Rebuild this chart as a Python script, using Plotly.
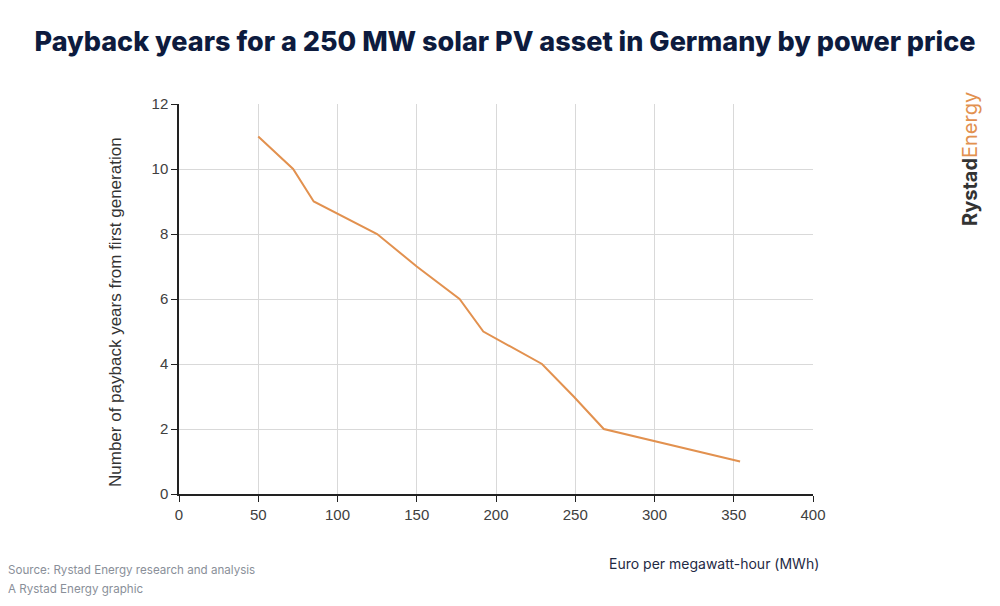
import plotly.graph_objects as go

# Data
power_price = [50, 72, 85, 125, 150, 177, 192, 229, 249, 268, 354]
payback_years = [11, 10, 9, 8, 7, 6, 5, 4, 3, 2, 1]

x_ticks = [0, 50, 100, 150, 200, 250, 300, 350, 400]
y_ticks = [0, 2, 4, 6, 8, 10, 12]

title_text = "Payback years for a 250 MW solar PV asset in Germany by power price"
y_title = "Number of payback years from first generation"
x_title = "Euro per megawatt-hour (MWh)"
source_lines = ["Source: Rystad Energy research and analysis", "A Rystad Energy graphic"]

fig = go.Figure()
fig.add_trace(go.Scatter(
    x=power_price, y=payback_years, mode="lines",
    line=dict(color="#E2914F", width=2), showlegend=False, hoverinfo="x+y"))

tick_font = dict(family="Liberation Sans, Arial, sans-serif", size=15, color="#404040")

fig.update_layout(
    width=1000, height=606,
    paper_bgcolor="white", plot_bgcolor="white",
    margin=dict(l=179, r=187, t=104, b=112),
    title=dict(text=title_text, x=0.505, xanchor="center", y=0.932, yanchor="middle",
               font=dict(family="Inter, Roboto, sans-serif", size=27, color="#0D1B3E", weight=800)),
    xaxis=dict(range=[0, 400], tickvals=x_ticks, showgrid=True, gridcolor="#D9D9D9", gridwidth=1,
               showline=True, linecolor="#222222", linewidth=1.5, ticks="outside", ticklen=6,
               tickcolor="#222222", tickfont=tick_font, zeroline=False),
    yaxis=dict(range=[0, 12], tickvals=y_ticks, showgrid=True, gridcolor="#D9D9D9", gridwidth=1,
               showline=True, linecolor="#222222", linewidth=1.5, ticks="outside", ticklen=6,
               tickcolor="#222222", tickfont=tick_font, zeroline=False),
)

fig.add_annotation(text=y_title, xref="paper", yref="paper", x=-(179 - 115) / 634, y=(494 - 312) / 390,
                   textangle=-90, xanchor="center", yanchor="middle", showarrow=False,
                   font=dict(family="Liberation Sans, Arial, sans-serif", size=17, color="#333333"))

fig.add_annotation(text=x_title, xref="paper", yref="paper", x=(821 - 179) / 634, y=-(563 - 494) / 390,
                   xanchor="right", yanchor="middle", showarrow=False,
                   font=dict(family="Inter, Roboto, sans-serif", size=14, color="#1F2A44"))

for i, line in enumerate(source_lines):
    fig.add_annotation(text=line, xref="paper", yref="paper", x=-(179 - 6) / 634,
                       y=-(570 + 19 * i - 494) / 390, xanchor="left", yanchor="middle", showarrow=False,
                       font=dict(family="Inter, Roboto, sans-serif", size=11.6, color="#8A8F99"))

fig.add_annotation(text="<b>Rystad</b><span style='color:#E2914F'>Energy</span>",
                   xref="paper", yref="paper", x=(970 - 179) / 634, y=(494 - 159) / 390,
                   textangle=-90, xanchor="center", yanchor="middle", showarrow=False,
                   font=dict(family="Inter, Roboto, sans-serif", size=20, color="#333333"))

fig.write_html("out.html", config={"displayModeBar": False},
               post_script="document.body.style.margin='0';")
